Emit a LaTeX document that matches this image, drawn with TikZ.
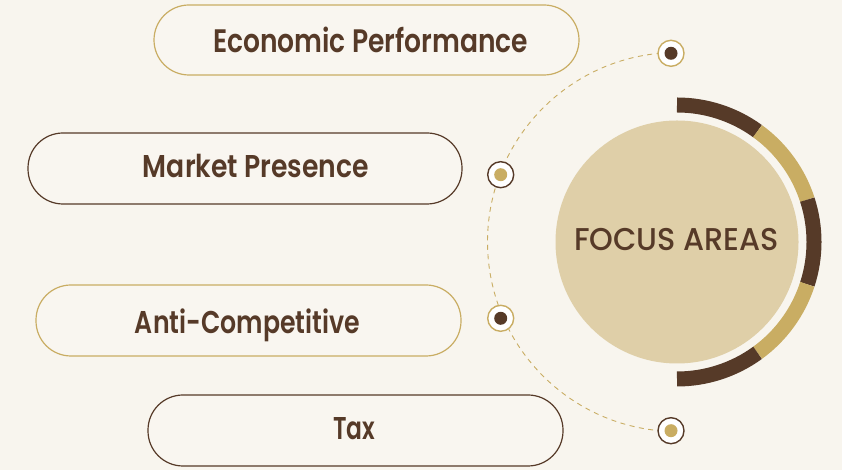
\documentclass[tikz,border=0pt]{standalone}
\usepackage{fontspec}
\setmainfont{Poppins}
\newfontfamily\pmed{Poppins Medium}
\newfontfamily\psemi{Poppins SemiBold}
\usepackage{graphicx}
\definecolor{bg}{HTML}{F8F5EE}
\definecolor{dark}{HTML}{563A28}
\definecolor{gold}{HTML}{C9AD63}
\definecolor{sand}{HTML}{DFCFA8}
\definecolor{pillfill}{HTML}{F9F6F0}
\tikzset{
  pill/.style={draw=#1, line width=1.2pt, fill=pillfill, rounded corners=35pt, inner sep=0pt},
  marker/.style={circle, draw=#1, line width=1.4pt, fill=white, minimum size=26pt, inner sep=0pt},
  lbl/.style={anchor=base, text=dark, inner sep=0pt},
  seg/.style={line width=15pt, draw=#1, line cap=butt}
}
\begin{document}
\begin{tikzpicture}[x=1pt,y=1pt]
\useasboundingbox (0,0) rectangle (842,470);
\fill[bg] (0,0) rectangle (842,470);
\coordinate (c) at (677,228);
% dashed arc
\draw[gold, line width=0.9pt, dash pattern=on 5pt off 4.5pt] ([shift={(91.8:189.5pt)}]c) arc (91.8:268.2:189.5pt);
% big circle
\node[circle, fill=sand, minimum size=243pt, inner sep=0pt] (fa) at (c) {};
\node[lbl] (fat) at (676.5,219) {\resizebox{205pt}{\height}{\pmed\fontsize{31.5}{34}\selectfont FOCUS AREAS}};
% outer segmented arc
\draw[seg=dark] ([shift={(90:137pt)}]c) arc (90:54:137pt);
\draw[seg=gold] ([shift={(54:137pt)}]c) arc (54:18:137pt);
\draw[seg=dark] ([shift={(18:137pt)}]c) arc (18:-18:137pt);
\draw[seg=gold] ([shift={(-18:137pt)}]c) arc (-18:-54:137pt);
\draw[seg=dark] ([shift={(-54:137pt)}]c) arc (-54:-90:137pt);
% pills
\node[pill=gold, minimum width=425pt, minimum height=70pt] (p1) at (366.5,430) {};
\node[pill=dark, minimum width=434pt, minimum height=71pt] (p2) at (245,301.5) {};
\node[pill=gold, minimum width=425pt, minimum height=71pt] (p3) at (248.5,149.5) {};
\node[pill=dark, minimum width=415pt, minimum height=71pt] (p4) at (355.5,39.5) {};
\node[lbl] (t1) at (370.5,417.3) {\resizebox{315pt}{\height}{\psemi\fontsize{32.5}{34}\selectfont Economic Performance}};
\node[lbl] (t2) at (256,292.3) {\resizebox{226pt}{\height}{\psemi\fontsize{31.5}{34}\selectfont Market Presence}};
\node[lbl] (t3) at (247.5,136) {\resizebox{225pt}{\height}{\psemi\fontsize{31.5}{34}\selectfont Anti-Competitive}};
\node[lbl] (t4) at (354,30) {\resizebox{42pt}{\height}{\psemi\fontsize{31.5}{34}\selectfont Tax}};
% markers
\node[marker=gold] (m1) at (671,416.7) {};
\node[marker=dark] (m2) at (500.7,295.3) {};
\node[marker=gold] (m3) at (500.7,151.7) {};
\node[marker=dark] (m4) at (671,39.3) {};
\fill[dark] (m1.center) circle (6.5pt);
\fill[gold] (m2.center) circle (6.5pt);
\fill[dark] (m3.center) circle (6.5pt);
\fill[gold] (m4.center) circle (6.5pt);
\end{tikzpicture}
\end{document}
